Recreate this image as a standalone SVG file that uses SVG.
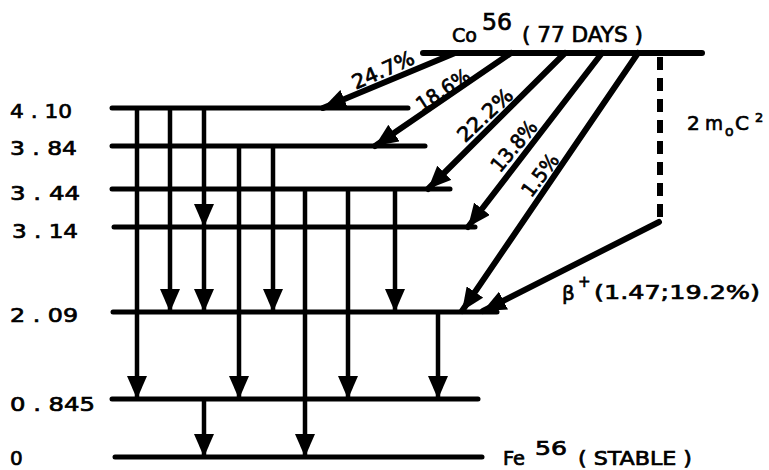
<svg xmlns="http://www.w3.org/2000/svg" width="769" height="470" viewBox="0 0 769 470">
<style>
.lvl{stroke:#000;stroke-width:5;stroke-linecap:round;fill:none}
.top{stroke:#000;stroke-width:6;stroke-linecap:round;fill:none}
.v{stroke:#000;stroke-width:4.5;fill:none;marker-end:url(#ah)}
.d{stroke:#000;stroke-width:6;fill:none;stroke-linecap:round;marker-end:url(#ah)}
.dash{stroke:#000;stroke-width:6;fill:none;stroke-dasharray:13 8}
text{font-family:"DejaVu Sans","Liberation Sans",sans-serif;fill:#000;stroke:#000;stroke-width:0.7}
.lab{font-size:20px}
.pct{font-size:20px}
</style>
<defs>
<marker id="ah" markerUnits="userSpaceOnUse" viewBox="0 0 23 20" markerWidth="23" markerHeight="20" refX="23" refY="10" orient="auto"><path d="M0,0 L23,10 L0,20 z" fill="#000"/></marker>
</defs>
<rect width="769" height="470" fill="#fff"/>
<g id="co56">
<line class="top" x1="423" y1="53" x2="702" y2="53"/>
<text x="452" y="42" font-size="20" textLength="25" lengthAdjust="spacingAndGlyphs">Co</text>
<text x="482" y="30" font-size="23" textLength="30" lengthAdjust="spacingAndGlyphs">56</text>
<text x="522" y="42" font-size="21" textLength="121" lengthAdjust="spacingAndGlyphs">( 77 DAYS )</text>
</g>
<g id="l410"><line class="lvl" x1="112" y1="108" x2="408" y2="108"/><text class="lab" x="10" y="118" textLength="62" lengthAdjust="spacingAndGlyphs">4 . 10</text></g>
<g id="l384"><line class="lvl" x1="112" y1="146" x2="425" y2="146"/><text class="lab" x="10" y="155" textLength="67" lengthAdjust="spacingAndGlyphs">3 . 84</text></g>
<g id="l344"><line class="lvl" x1="112" y1="189" x2="450" y2="189"/><text class="lab" x="10" y="200" textLength="70" lengthAdjust="spacingAndGlyphs">3 . 44</text></g>
<g id="l314"><line class="lvl" x1="114" y1="227" x2="475" y2="227"/><text class="lab" x="12" y="238" textLength="66" lengthAdjust="spacingAndGlyphs">3 . 14</text></g>
<g id="l209"><line class="lvl" x1="113" y1="312" x2="497" y2="312"/><text class="lab" x="10" y="322" textLength="68" lengthAdjust="spacingAndGlyphs">2 . 09</text></g>
<g id="l0845"><line class="lvl" x1="112" y1="399" x2="478" y2="399"/><text class="lab" x="10" y="411" textLength="85" lengthAdjust="spacingAndGlyphs">0 . 845</text></g>
<g id="l0"><line class="lvl" x1="115" y1="457" x2="482" y2="457"/><text class="lab" x="10" y="465">0</text>
<text x="503" y="465" font-size="19" textLength="22" lengthAdjust="spacingAndGlyphs">Fe</text>
<text x="535" y="455" font-size="19" textLength="32" lengthAdjust="spacingAndGlyphs">56</text>
<text x="578" y="465" font-size="19" textLength="114" lengthAdjust="spacingAndGlyphs">( STABLE )</text>
</g>
<g id="connectors">
<line class="v" x1="137" y1="108" x2="137" y2="399"/>
<line class="v" x1="170" y1="108" x2="170" y2="312"/>
<line class="v" x1="204" y1="108" x2="204" y2="227"/>
<line class="v" x1="204" y1="227" x2="204" y2="312"/>
<line class="v" x1="239" y1="146" x2="239" y2="399"/>
<line class="v" x1="273" y1="146" x2="273" y2="312"/>
<line class="v" x1="305" y1="189" x2="305" y2="457"/>
<line class="v" x1="348" y1="189" x2="348" y2="399"/>
<line class="v" x1="395" y1="189" x2="395" y2="312"/>
<line class="v" x1="438" y1="312" x2="438" y2="399"/>
<line class="v" x1="204" y1="399" x2="204" y2="457"/>
<line class="d" x1="455" y1="53" x2="323" y2="108"/>
<line class="d" x1="511" y1="53" x2="375" y2="146"/>
<line class="d" x1="565" y1="53" x2="428" y2="189"/>
<line class="d" x1="602" y1="53" x2="468" y2="227"/>
<line class="d" x1="638" y1="53" x2="462" y2="311"/>
<line class="dash" x1="660" y1="57" x2="660" y2="222"/>
<line class="d" x1="659" y1="222" x2="483" y2="311"/>
<text class="pct" x="383" y="70" text-anchor="middle" dominant-baseline="central" textLength="66" lengthAdjust="spacingAndGlyphs" transform="rotate(-24 383 70)">24.7%</text>
<text class="pct" x="443" y="90" text-anchor="middle" dominant-baseline="central" textLength="60" lengthAdjust="spacingAndGlyphs" transform="rotate(-33 443 90)">18.6%</text>
<text class="pct" x="485" y="115" text-anchor="middle" dominant-baseline="central" textLength="68" lengthAdjust="spacingAndGlyphs" transform="rotate(-43 485 115)">22.2%</text>
<text class="pct" x="514" y="146" text-anchor="middle" dominant-baseline="central" textLength="60" lengthAdjust="spacingAndGlyphs" transform="rotate(-50 514 146)">13.8%</text>
<text class="pct" x="540" y="175" text-anchor="middle" dominant-baseline="central" textLength="48" lengthAdjust="spacingAndGlyphs" transform="rotate(-53 540 175)">1.5%</text>
<text x="687" y="130" font-size="20">2</text>
<text x="705" y="130" font-size="20" textLength="18" lengthAdjust="spacingAndGlyphs">m</text>
<text x="725" y="136" font-size="14">o</text>
<text x="735" y="130" font-size="20">C</text>
<text x="755" y="122" font-size="13">2</text>
<text x="562" y="300" font-size="20">β</text>
<text x="578" y="287" font-size="15">+</text>
<text x="594" y="299" font-size="20" textLength="166" lengthAdjust="spacingAndGlyphs">(1.47;19.2%)</text>
</g>
</svg>
